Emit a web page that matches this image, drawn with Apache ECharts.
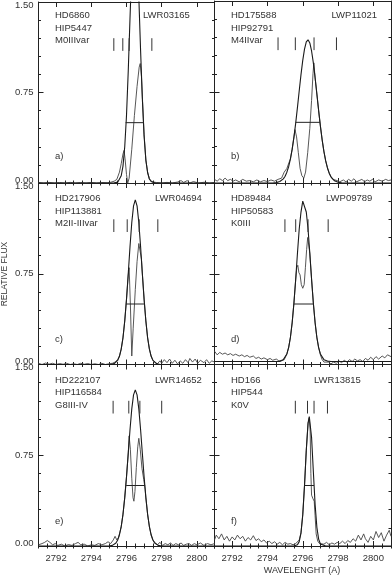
<!DOCTYPE html>
<html>
<head>
<meta charset="utf-8">
<script src="https://cdn.jsdelivr.net/npm/echarts@6.0.0/dist/echarts.min.js"></script>
<style>
html, body { margin: 0; padding: 0; background: #fff; }
#chart { width: 392px; height: 576px; }
</style>
</head>
<body>
<div id="chart"></div>
<script>
// wavelength axis ticks (A)
const majorTicks = [2792, 2794, 2796, 2798, 2800];
const minorTicks = [2791, 2791.5, 2792, 2792.5, 2793, 2793.5, 2794, 2794.5, 2795, 2795.5,
  2796, 2796.5, 2797, 2797.5, 2798, 2798.5, 2799, 2799.5, 2800, 2800.5, 2801];

// star labels
const starNames = ['HD6860', 'HD175588', 'HD217906', 'HD89484', 'HD222107', 'HD166'];
const hipNames = ['HIP5447', 'HIP92791', 'HIP113881', 'HIP50583', 'HIP116584', 'HIP544'];
const spTypes = ['M0IIIvar', 'M4IIvar', 'M2II-IIIvar', 'K0III', 'G8III-IV', 'K0V'];
const imageIds = ['LWR03165', 'LWP11021', 'LWR04694', 'LWP09789', 'LWR14652', 'LWR13815'];
const panelTags = ['a)', 'b)', 'c)', 'd)', 'e)', 'f)'];

// observed spectra [wavelength, relative flux]
const specA = [[2791.0,0.005],[2791.3,0.0],[2791.6,0.005],[2791.9,0.0],[2792.2,0.004],[2792.5,0.0],[2792.8,0.005],[2793.1,0.0],[2793.4,0.004],[2793.7,0.0],[2794.0,0.005],[2794.3,0.0],[2794.6,0.004],[2794.9,0.002],[2795.1,0.006],[2795.3,0.015],[2795.45,0.03],[2795.6,0.09],[2795.7,0.16],[2795.8,0.24],[2795.86,0.27],[2795.92,0.2],[2796.0,0.07],[2796.07,0.0],[2796.15,0.04],[2796.3,0.28],[2796.45,0.56],[2796.6,0.8],[2796.72,0.96],[2796.78,0.99],[2796.85,0.88],[2796.9,0.72],[2797.0,0.40],[2797.1,0.19],[2797.2,0.09],[2797.3,0.035],[2797.45,0.01],[2797.7,0.004],[2798.0,0.0],[2798.3,0.005],[2798.6,0.0],[2798.9,0.008],[2799.1,0.02],[2799.25,0.005],[2799.45,0.02],[2799.6,0.0],[2799.8,0.012],[2800.1,0.0],[2800.4,0.006],[2800.7,0.0],[2801.0,0.005]];
const specB = [[2791.0,0.03],[2791.15,0.015],[2791.3,0.035],[2791.45,0.02],[2791.6,0.04],[2791.75,0.02],[2791.9,0.03],[2792.05,0.015],[2792.2,0.025],[2792.4,0.01],[2792.6,0.03],[2792.8,0.015],[2793.0,0.02],[2793.2,0.01],[2793.4,0.025],[2793.6,0.01],[2793.8,0.02],[2794.0,0.012],[2794.2,0.025],[2794.4,0.015],[2794.6,0.03],[2794.8,0.04],[2794.95,0.09],[2795.1,0.12],[2795.2,0.13],[2795.3,0.2],[2795.4,0.28],[2795.5,0.38],[2795.56,0.44],[2795.65,0.38],[2795.75,0.25],[2795.85,0.12],[2795.95,0.06],[2796.06,0.04],[2796.16,0.09],[2796.28,0.25],[2796.4,0.45],[2796.5,0.68],[2796.58,0.9],[2796.63,0.99],[2796.7,0.867],[2796.8,0.733],[2796.9,0.597],[2797.0,0.469],[2797.1,0.355],[2797.2,0.259],[2797.3,0.182],[2797.4,0.124],[2797.5,0.08],[2797.6,0.05],[2797.7,0.03],[2797.8,0.045],[2797.95,0.02],[2798.1,0.01],[2798.3,0.025],[2798.45,0.01],[2798.6,0.03],[2798.75,0.015],[2798.9,0.035],[2799.05,0.01],[2799.2,0.02],[2799.35,0.03],[2799.5,0.01],[2799.65,0.025],[2799.8,0.015],[2799.95,0.03],[2800.1,0.01],[2800.3,0.025],[2800.5,0.015],[2800.7,0.03],[2800.85,0.02],[2801.0,0.025]];
const specC = [[2791.0,0.01],[2791.2,0.0],[2791.4,0.012],[2791.6,0.003],[2791.8,0.01],[2792.0,0.0],[2792.2,0.008],[2792.4,0.002],[2792.6,0.01],[2792.8,0.0],[2793.0,0.006],[2793.2,0.0],[2793.4,0.01],[2793.6,0.002],[2793.8,0.008],[2794.0,0.0],[2794.2,0.006],[2794.4,0.0],[2794.6,0.01],[2794.8,0.0],[2795.0,0.006],[2795.2,0.01],[2795.35,0.02],[2795.5,0.04],[2795.6,0.07],[2795.7,0.13],[2795.8,0.22],[2795.9,0.36],[2796.0,0.54],[2796.1,0.74],[2796.15,0.8],[2796.22,0.5],[2796.3,0.07],[2796.38,0.3],[2796.5,0.62],[2796.6,0.85],[2796.7,1.0],[2796.78,1.0],[2796.85,0.87],[2796.9,0.75],[2797.0,0.54],[2797.1,0.36],[2797.2,0.22],[2797.3,0.13],[2797.4,0.07],[2797.5,0.035],[2797.6,0.02],[2797.75,0.005],[2797.9,0.03],[2798.0,0.01],[2798.15,0.04],[2798.3,0.015],[2798.45,0.045],[2798.6,0.01],[2798.75,0.035],[2798.9,0.005],[2799.05,0.03],[2799.2,0.01],[2799.35,0.04],[2799.5,0.015],[2799.6,0.05],[2799.75,0.02],[2799.9,0.045],[2800.05,0.01],[2800.2,0.035],[2800.4,0.015],[2800.55,0.04],[2800.7,0.01],[2800.85,0.03],[2801.0,0.02]];
const specD = [[2791.0,0.11],[2791.15,0.08],[2791.3,0.10],[2791.45,0.085],[2791.6,0.095],[2791.75,0.08],[2791.9,0.09],[2792.05,0.075],[2792.2,0.085],[2792.4,0.07],[2792.55,0.08],[2792.7,0.065],[2792.85,0.075],[2793.0,0.06],[2793.2,0.07],[2793.35,0.05],[2793.5,0.06],[2793.65,0.045],[2793.8,0.055],[2794.0,0.04],[2794.15,0.05],[2794.3,0.035],[2794.5,0.045],[2794.65,0.03],[2794.8,0.035],[2794.95,0.04],[2795.1,0.087],[2795.2,0.14],[2795.3,0.223],[2795.4,0.345],[2795.5,0.508],[2795.6,0.70],[2795.66,0.8],[2795.72,0.82],[2795.78,0.76],[2795.85,0.74],[2795.92,0.66],[2796.0,0.63],[2796.08,0.66],[2796.15,0.8],[2796.22,0.95],[2796.28,1.05],[2796.33,1.06],[2796.4,0.919],[2796.5,0.705],[2796.6,0.508],[2796.7,0.345],[2796.8,0.223],[2796.9,0.14],[2797.0,0.08],[2797.1,0.04],[2797.2,0.02],[2797.3,0.01],[2797.45,0.02],[2797.6,0.005],[2797.75,0.02],[2797.9,0.01],[2798.05,0.03],[2798.2,0.015],[2798.35,0.035],[2798.5,0.02],[2798.65,0.04],[2798.8,0.025],[2798.95,0.045],[2799.1,0.03],[2799.25,0.04],[2799.4,0.025],[2799.55,0.05],[2799.7,0.035],[2799.85,0.06],[2800.0,0.04],[2800.15,0.065],[2800.3,0.045],[2800.5,0.07],[2800.65,0.055],[2800.8,0.08],[2801.0,0.065]];
const specE = [[2791.0,0.01],[2791.2,0.02],[2791.35,0.03],[2791.5,0.045],[2791.65,0.03],[2791.8,0.01],[2791.95,0.02],[2792.1,0.005],[2792.3,0.015],[2792.5,0.0],[2792.7,0.012],[2792.9,0.005],[2793.1,0.02],[2793.25,0.03],[2793.4,0.01],[2793.6,0.015],[2793.8,0.0],[2794.0,0.01],[2794.2,0.005],[2794.4,0.02],[2794.6,0.01],[2794.8,0.02],[2794.95,0.035],[2795.1,0.02],[2795.25,0.05],[2795.35,0.08],[2795.45,0.05],[2795.55,0.07],[2795.7,0.16],[2795.8,0.26],[2795.9,0.40],[2796.0,0.57],[2796.1,0.77],[2796.15,0.91],[2796.22,0.8],[2796.3,0.56],[2796.37,0.4],[2796.42,0.37],[2796.48,0.45],[2796.56,0.65],[2796.64,0.82],[2796.7,0.89],[2796.78,0.8],[2796.88,0.64],[2796.98,0.55],[2797.06,0.47],[2797.1,0.40],[2797.2,0.26],[2797.3,0.16],[2797.4,0.09],[2797.5,0.05],[2797.6,0.03],[2797.75,0.01],[2797.9,0.03],[2798.05,0.005],[2798.2,0.02],[2798.35,0.01],[2798.5,0.025],[2798.65,0.005],[2798.8,0.02],[2798.95,0.01],[2799.1,0.025],[2799.25,0.005],[2799.4,0.015],[2799.55,0.02],[2799.7,0.005],[2799.85,0.02],[2800.0,0.01],[2800.2,0.025],[2800.4,0.005],[2800.6,0.02],[2800.8,0.01],[2801.0,0.02]];
const specF = [[2791.0,0.05],[2791.1,0.09],[2791.25,0.06],[2791.4,0.1],[2791.55,0.05],[2791.7,0.08],[2791.85,0.04],[2792.0,0.075],[2792.15,0.05],[2792.3,0.09],[2792.45,0.06],[2792.6,0.08],[2792.75,0.04],[2792.9,0.07],[2793.05,0.05],[2793.2,0.085],[2793.35,0.045],[2793.5,0.06],[2793.65,0.035],[2793.8,0.05],[2793.95,0.025],[2794.1,0.04],[2794.25,0.02],[2794.4,0.035],[2794.55,0.015],[2794.7,0.03],[2794.85,0.01],[2795.0,0.03],[2795.15,0.015],[2795.3,0.02],[2795.45,0.01],[2795.6,0.02],[2795.7,0.03],[2795.8,0.05],[2795.9,0.11],[2796.0,0.26],[2796.1,0.50],[2796.2,0.79],[2796.3,1.01],[2796.37,1.06],[2796.42,0.95],[2796.46,0.6],[2796.5,0.42],[2796.58,0.39],[2796.65,0.37],[2796.7,0.25],[2796.76,0.1],[2796.85,0.04],[2796.95,0.02],[2797.05,0.035],[2797.2,0.015],[2797.35,0.03],[2797.5,0.01],[2797.65,0.025],[2797.8,0.015],[2797.95,0.03],[2798.1,0.02],[2798.25,0.04],[2798.4,0.02],[2798.55,0.045],[2798.7,0.03],[2798.85,0.06],[2799.0,0.04],[2799.15,0.09],[2799.3,0.05],[2799.45,0.1],[2799.55,0.06],[2799.7,0.03],[2799.85,0.08],[2800.0,0.05],[2800.15,0.12],[2800.3,0.07],[2800.45,0.11],[2800.6,0.04],[2800.75,0.09],[2800.9,0.13],[2801.0,0.08]];

// gaussian fits
const fitA = [[2791,0],[2795.0,0],[2795.3,0.001],[2795.5,0.007],[2795.6,0.022],[2795.7,0.06],[2795.8,0.14],[2795.9,0.30],[2796.0,0.56],[2796.1,0.93],[2796.2,1.37],[2796.3,1.78],[2796.4,2.06],[2796.5,2.11],[2796.6,1.91],[2796.7,1.54],[2796.8,1.10],[2796.9,0.70],[2797.0,0.39],[2797.1,0.19],[2797.2,0.085],[2797.3,0.033],[2797.4,0.012],[2797.6,0.001],[2797.8,0],[2801,0]];
const fitB = [[2791,0],[2794.3,0],[2794.5,0.003],[2794.7,0.012],[2794.9,0.034],[2795.0,0.056],[2795.1,0.089],[2795.2,0.134],[2795.3,0.196],[2795.4,0.277],[2795.5,0.376],[2795.6,0.493],[2795.7,0.623],[2795.8,0.760],[2795.9,0.893],[2796.0,1.011],[2796.1,1.104],[2796.2,1.163],[2796.3,1.18],[2796.4,1.154],[2796.5,1.088],[2796.6,0.990],[2796.7,0.867],[2796.8,0.733],[2796.9,0.597],[2797.0,0.469],[2797.1,0.355],[2797.2,0.259],[2797.3,0.182],[2797.4,0.124],[2797.5,0.081],[2797.6,0.051],[2797.8,0.018],[2798.0,0.006],[2798.2,0.001],[2798.4,0],[2801,0]];
const fitC = [[2791,0],[2795.1,0],[2795.3,0.007],[2795.5,0.034],[2795.6,0.068],[2795.7,0.127],[2795.8,0.221],[2795.9,0.359],[2796.0,0.539],[2796.1,0.752],[2796.2,0.975],[2796.3,1.173],[2796.4,1.311],[2796.5,1.36],[2796.6,1.311],[2796.7,1.173],[2796.8,0.975],[2796.9,0.752],[2797.0,0.539],[2797.1,0.359],[2797.2,0.221],[2797.3,0.127],[2797.4,0.068],[2797.5,0.034],[2797.7,0.007],[2797.9,0],[2801,0]];
const fitD = [[2791,0.025],[2794.7,0.025],[2794.9,0.04],[2795.1,0.087],[2795.2,0.14],[2795.3,0.223],[2795.4,0.345],[2795.5,0.508],[2795.6,0.705],[2795.7,0.919],[2795.8,1.12],[2795.9,1.26],[2796.0,1.35],[2796.1,1.35],[2796.2,1.26],[2796.3,1.12],[2796.4,0.919],[2796.5,0.705],[2796.6,0.508],[2796.7,0.345],[2796.8,0.223],[2796.9,0.14],[2797.0,0.087],[2797.2,0.04],[2797.4,0.028],[2797.6,0.025],[2801,0.025]];
const fitE = [[2791,0],[2795.0,0],[2795.2,0.005],[2795.4,0.025],[2795.5,0.05],[2795.6,0.093],[2795.7,0.161],[2795.8,0.262],[2795.9,0.40],[2796.0,0.572],[2796.1,0.767],[2796.2,0.963],[2796.3,1.133],[2796.4,1.249],[2796.5,1.29],[2796.6,1.249],[2796.7,1.133],[2796.8,0.963],[2796.9,0.767],[2797.0,0.572],[2797.1,0.40],[2797.2,0.262],[2797.3,0.161],[2797.4,0.093],[2797.5,0.05],[2797.6,0.025],[2797.8,0.005],[2798.0,0],[2801,0]];
const fitF = [[2791,0],[2795.5,0],[2795.7,0.01],[2795.8,0.036],[2795.9,0.107],[2796.0,0.256],[2796.1,0.50],[2796.2,0.791],[2796.3,1.017],[2796.37,1.07],[2796.4,1.06],[2796.5,0.897],[2796.6,0.616],[2796.7,0.343],[2796.8,0.155],[2796.9,0.057],[2797.0,0.017],[2797.1,0.004],[2797.3,0],[2801,0]];

// width of the fit at flux 0.5: [start, end]
const fwhmLevel = 0.5;
const fwhmA = [2795.95, 2796.97];
const fwhmB = [2795.60, 2796.97];
const fwhmC = [2795.98, 2797.02];
const fwhmD = [2795.51, 2796.59];
const fwhmE = [2795.98, 2797.06];
const fwhmF = [2796.11, 2796.64];

// reference wavelength marks
const markLow = 1.095, markHigh = 1.2;
const marksA = [2795.28, 2795.79, 2796.15, 2797.44];
const marksB = [2794.60, 2795.58, 2796.64, 2797.91];
const marksC = [2795.28, 2796.04, 2796.72, 2797.78];
const marksD = [2794.99, 2795.60, 2796.30, 2797.44];
const marksE = [2795.24, 2796.13, 2796.76, 2798.00];
const marksF = [2795.58, 2796.27, 2796.64, 2797.40];

const specs = [specA, specB, specC, specD, specE, specF];
const fits = [fitA, fitB, fitC, fitD, fitE, fitF];
const fwhms = [fwhmA, fwhmB, fwhmC, fwhmD, fwhmE, fwhmF];
const marks = [marksA, marksB, marksC, marksD, marksE, marksF];
const idX = [143, 331.5, 155, 326, 155, 314];

const colLeft = [38.5, 214.5];
const colWidth = [176, 176.5];
const rowTop = [1, 183, 364.5];
const rowHeight = [182, 181.5, 181.5];

const ink = '#222';
const font = 'Liberation Sans, Arial, sans-serif';

var chartDom = document.getElementById('chart');
var myChart = echarts.init(chartDom, null, {renderer: 'canvas'});

var grids = [], xAxes = [], yAxes = [], series = [], graphics = [];

for (let i = 0; i < 6; i++) {
  const col = i % 2, row = Math.floor(i / 2);
  grids.push({left: colLeft[col], top: rowTop[row], width: colWidth[col], height: rowHeight[row], containLabel: false});

  const xBase = {
    type: 'value', gridIndex: i, min: 2791, max: 2801,
    splitLine: {show: false},
    axisLine: {show: true, onZero: false, lineStyle: {color: ink, width: 1}}
  };
  ['bottom', 'top'].forEach(pos => {
    xAxes.push(Object.assign({}, xBase, {
      position: pos,
      axisTick: {show: true, inside: true, length: 5, customValues: majorTicks, lineStyle: {color: ink}},
      axisLabel: {show: pos === 'bottom' && row === 2, customValues: majorTicks, margin: 7,
        fontSize: 9.5, fontFamily: font, color: '#333', formatter: v => String(v)}
    }));
    xAxes.push(Object.assign({}, xBase, {
      position: pos,
      axisLine: {show: false},
      axisTick: {show: true, inside: true, length: 2.5, customValues: minorTicks, lineStyle: {color: ink}},
      axisLabel: {show: false}
    }));
  });

  ['left', 'right'].forEach(pos => {
    yAxes.push({
      type: 'value', gridIndex: i, position: pos, min: 0, max: 1.5, interval: 0.75,
      splitLine: {show: false},
      axisLine: {show: true, onZero: false, lineStyle: {color: ink, width: 1}},
      axisTick: {show: true, inside: true, length: 5, lineStyle: {color: ink}},
      minorTick: {show: true, splitNumber: 5, length: 2.5, lineStyle: {color: ink}},
      axisLabel: {show: pos === 'left' && col === 0, margin: 5, fontSize: 9.5, fontFamily: font, color: '#333',
        formatter: v => v.toFixed(2), lineHeight: 6,
        verticalAlignMinLabel: 'bottom', verticalAlignMaxLabel: 'top'}
    });
  });

  const xi = i * 4, yi = i * 2;
  series.push({
    type: 'line', xAxisIndex: xi, yAxisIndex: yi, data: specs[i], showSymbol: false, symbol: 'none',
    lineStyle: {color: '#444', width: 0.9}, animation: false, silent: true
  });
  series.push({
    type: 'line', xAxisIndex: xi, yAxisIndex: yi, data: fits[i], showSymbol: false, symbol: 'none',
    lineStyle: {color: '#1a1a1a', width: 1.1}, animation: false, silent: true
  });
  series.push({
    type: 'line', xAxisIndex: xi, yAxisIndex: yi,
    data: [[fwhms[i][0], fwhmLevel], [fwhms[i][1], fwhmLevel]],
    showSymbol: false, symbol: 'none', lineStyle: {color: ink, width: 1}, animation: false, silent: true
  });
  const markData = [];
  marks[i].forEach(w => { markData.push([w, markLow], [w, markHigh], [w, null]); });
  series.push({
    type: 'line', xAxisIndex: xi, yAxisIndex: yi, data: markData, connectNulls: false,
    showSymbol: false, symbol: 'none', lineStyle: {color: '#333', width: 1}, animation: false, silent: true
  });

  // panel text
  const tx = colLeft[col] + 16.5, ty = row === 0 ? 0 : rowTop[row];
  const txt = (s, x, y) => ({type: 'text', x: x, y: y, silent: true,
    style: {text: s, fontSize: 9.5, fontFamily: font, fill: '#333', verticalAlign: 'middle'}});
  graphics.push(txt(starNames[i], tx, ty + 15.7));
  graphics.push(txt(hipNames[i], tx, ty + 28));
  graphics.push(txt(spTypes[i], tx, ty + 40.4));
  graphics.push(txt(imageIds[i], idX[i], ty + 15.7));
  graphics.push(txt(panelTags[i], tx, ty + 156.7));
}

graphics.push({type: 'text', x: 5, y: 274, rotation: Math.PI / 2, silent: true,
  style: {text: 'RELATIVE FLUX', fontSize: 8.5, fontFamily: font, fill: '#333', align: 'center', verticalAlign: 'middle'}});
graphics.push({type: 'text', x: 302, y: 570.5, silent: true,
  style: {text: 'WAVELENGHT (A)', fontSize: 9, fontFamily: font, fill: '#333', align: 'center', verticalAlign: 'middle'}});

var option = {
  backgroundColor: '#fff',
  animation: false,
  grid: grids,
  xAxis: xAxes,
  yAxis: yAxes,
  series: series,
  graphic: graphics
};
option && myChart.setOption(option);
</script>
</body>
</html>
